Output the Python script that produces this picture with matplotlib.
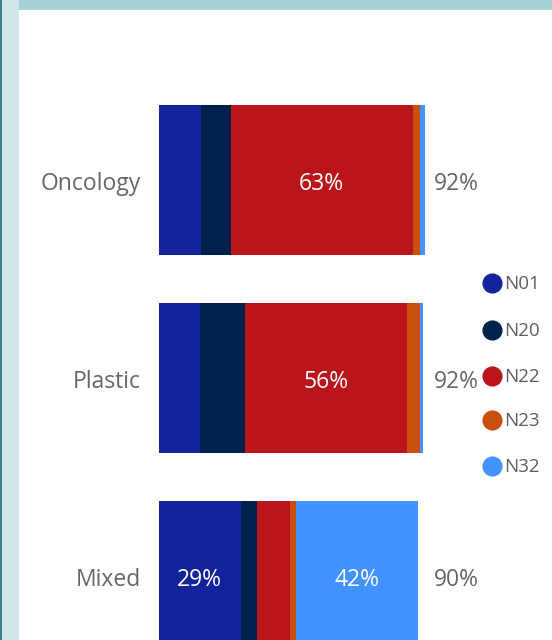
import matplotlib
matplotlib.use("Agg")
import matplotlib.pyplot as plt
from matplotlib.patches import Rectangle
from matplotlib.lines import Line2D
import numpy as np

plt.rcParams['font.family'] = ['Open Sans', 'DejaVu Sans']

categories = ["Oncology", "Plastic", "Mixed"]
series_names = ["N01", "N20", "N22", "N23", "N32"]
N01 = [14.8, 14.5, 28.6]
N20 = [10.4, 15.6, 5.5]
N22 = [63.0, 56.2, 11.5]
N23 = [2.7, 4.6, 2.1]
N32 = [1.5, 1.0, 42.3]
series_values = [N01, N20, N22, N23, N32]
colors = ["#13249B", "#01214D", "#B9151B", "#C94F0F", "#4292FF"]

W, H = 552, 640
fig = plt.figure(figsize=(W / 100, H / 100), dpi=100)
fig.patch.set_facecolor("white")

# decorative frame
fig.add_artist(Rectangle((18 / W, (H - 10) / H), (W - 18) / W, 10 / H,
                         transform=fig.transFigure, color="#A6D1D8", lw=0))
fig.add_artist(Rectangle((0, 0), 19 / W, 1, transform=fig.transFigure,
                         color="#D0E7EA", lw=0))
fig.add_artist(Rectangle((0, 0), 1.5 / W, 1, transform=fig.transFigure,
                         color="#3B7F8A", lw=0))

# axes geometry (pixels)
x0_px = 158.5
px_per_pct = 2.88
y_top_px = 80.7
y_bot_px = 674.9
ax = fig.add_axes([x0_px / W, (H - y_bot_px) / H, 100 * px_per_pct / W,
                   (y_bot_px - y_top_px) / H])
ax.set_xlim(0, 100)
ax.set_ylim(2.5, -0.5)
ax.axis("off")

dy = 0.02  # small downward nudge for text baseline
ypos = np.arange(len(categories))
left = np.zeros(len(categories))
for name, vals, c in zip(series_names, series_values, colors):
    vals = np.array(vals)
    ax.barh(ypos, vals, left=left, height=0.757, color=c, lw=0)
    for y, v, l in zip(ypos, vals, left):
        if v >= 20:
            ax.text(l + v / 2, y + dy, f"{v:.0f}%", ha="center", va="center",
                    color="white", fontsize=16.5)
    left = left + vals

totals = left
for y, t, cat in zip(ypos, totals, categories):
    ax.text(95.7, y + dy, f"{t:.0f}%", ha="left", va="center", color="#666666",
            fontsize=16.5, clip_on=False)
    ax.text(-6.1, y + dy, cat, ha="right", va="center", color="#666666",
            fontsize=16.5, clip_on=False)

# legend
leg_y = [283, 329.5, 375.5, 420, 466]
for name, c, yp in zip(series_names, colors, leg_y):
    fig.add_artist(Line2D([491.5 / W], [(H - yp) / H], marker="o",
                          markersize=13.5, color=c, lw=0,
                          transform=fig.transFigure))
    fig.text(504 / W, (H - yp - 1) / H, name, ha="left", va="center",
             color="#605E5C", fontsize=13.5)

fig.savefig("out.png", dpi=100)
